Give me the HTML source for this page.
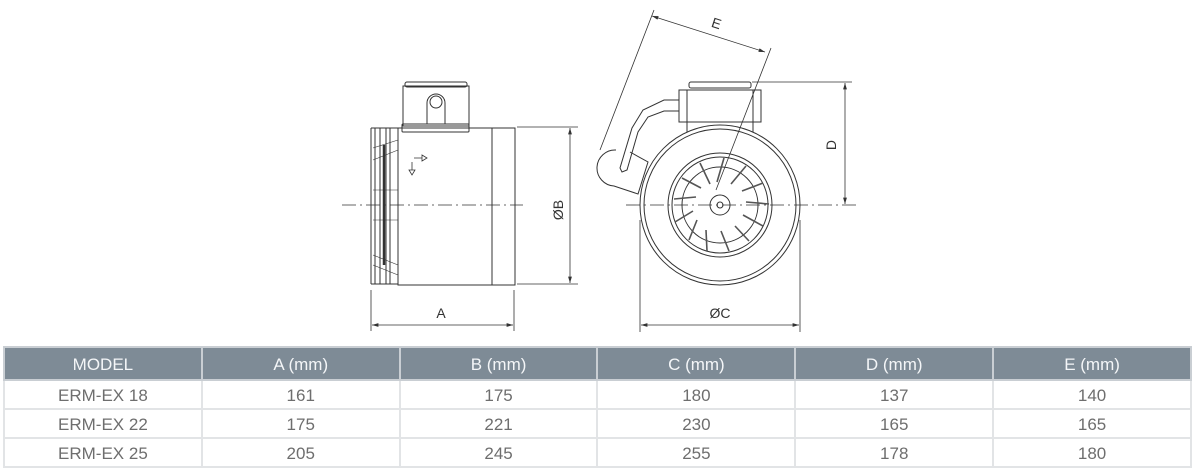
<!DOCTYPE html>
<html><head><meta charset="utf-8"><style>
html,body{margin:0;padding:0;background:#fff;width:1196px;height:470px;overflow:hidden;font-family:"Liberation Sans",sans-serif}
svg{position:absolute;left:0;top:0}
table{position:absolute;left:3px;top:346px;width:1189px;border-collapse:collapse;table-layout:fixed}
td,th{text-align:center;font-weight:normal;font-size:17px;border:2px solid #e2e4e6;padding:0;color:#6e6e6e;line-height:20px}
th{background:#7e8b96;color:#f4f6f8;height:29px;border-color:#c9ced3;padding-top:2px}
td{height:25px;padding-top:2px}
</style></head><body>
<svg width="1196" height="340" viewBox="0 0 1196 340" fill="none" stroke="#333" stroke-width="1">
<defs><marker id="ar" viewBox="0 0 10 10" refX="10" refY="5" markerWidth="8" markerHeight="8" orient="auto-start-reverse"><path d="M0,2 L10,5 L0,8" fill="#333" stroke="none"/></marker></defs>
<rect x="405" y="82" width="62" height="5" rx="2"/>
<rect x="403" y="86" width="66" height="40"/>
<path d="M427 124 V103 A9 9 0 0 1 445 103 V124"/>
<circle cx="436" cy="102" r="6"/>
<rect x="402" y="124" width="67" height="8" rx="1"/>
<rect x="398" y="128" width="94" height="157"/>
<rect x="492" y="128" width="23" height="157"/>
<path d="M371 128 H398 M371 284 H398 M371 128 V284 M375 128 V284 M380 128 V284 M386 128 V284 M390 128 V284"/>
<path d="M384 145 V265" stroke-width="2.5"/>
<path d="M373 148 L398 140 M373 160 L398 150 M373 255 L398 265 M373 265 L398 275 M373 190 H398 M373 220 H398" stroke-width="0.6"/>
<path d="M414 158 H422 M422 155 L427 158 L422 161 Z M412 162 V170 M409 170 L412 175 L415 170 Z" stroke-width="0.8"/>
<path d="M342 205 H523" stroke-dasharray="14 4 2 4" stroke-width="0.8"/>
<path d="M517 127 H578 M517 284 H578" stroke-width="0.8"/>
<line x1="570" y1="128" x2="570" y2="283" marker-start="url(#ar)" marker-end="url(#ar)" stroke-width="0.8"/>
<path d="M371 290 V331 M514 290 V331" stroke-width="0.8"/>
<line x1="372" y1="325" x2="513" y2="325" marker-start="url(#ar)" marker-end="url(#ar)" stroke-width="0.8"/>
<rect x="689" y="82" width="62" height="6" rx="2"/>
<rect x="679" y="90" width="82" height="32"/>
<path d="M687 90 V122 M753 90 V122"/>
<path d="M687 122 V132 M753 122 V132"/>
<path d="M679 100 H664 L643 110 L632 128 L620 168 L622 172 L627 170 L638 132 L648 117 L664 111 H679"/>
<path d="M616 150 A14 14 0 0 0 614 186 L638 194 L648 162 L630 152"/>
<circle cx="720" cy="205" r="80" fill="#fff"/>
<circle cx="720" cy="205" r="76"/>
<circle cx="720" cy="205" r="52"/>
<circle cx="720" cy="205" r="48"/>
<circle cx="720" cy="205" r="38"/>
<circle cx="720" cy="205" r="10"/>
<circle cx="720" cy="205" r="3"/>
<g stroke-width="1.6" stroke="#555">
<line x1="724" y1="158" x2="717" y2="182"/>
<line x1="746" y1="166" x2="731" y2="184"/>
<line x1="763" y1="183" x2="742" y2="191"/>
<line x1="769" y1="204" x2="746" y2="202"/>
<line x1="763" y1="226" x2="743" y2="215"/>
<line x1="749" y1="241" x2="735" y2="226"/>
<line x1="729" y1="251" x2="721" y2="231"/>
<line x1="707" y1="251" x2="706" y2="230"/>
<line x1="689" y1="240" x2="697" y2="220"/>
<line x1="675" y1="222" x2="693" y2="211"/>
<line x1="674" y1="199" x2="696" y2="197"/>
<line x1="682" y1="178" x2="701" y2="188"/>
<line x1="700" y1="163" x2="710" y2="184"/>
</g>
<path d="M626 205 H858" stroke-dasharray="14 4 2 4" stroke-width="0.8"/>
<path d="M752 82 H852" stroke-width="0.8"/>
<line x1="845" y1="83" x2="845" y2="204" marker-start="url(#ar)" marker-end="url(#ar)" stroke-width="0.8"/>
<path d="M640 220 V332 M800 220 V332" stroke-width="0.8"/>
<line x1="641" y1="325" x2="799" y2="325" marker-start="url(#ar)" marker-end="url(#ar)" stroke-width="0.8"/>
<path d="M600 150 L654 10 M716 190 L771 48" stroke-width="0.8"/>
<line x1="652" y1="16" x2="765" y2="52" marker-start="url(#ar)" marker-end="url(#ar)" stroke-width="0.8"/>
<g fill="#333" stroke="none" font-family="Liberation Sans, sans-serif" font-size="14">
<text x="441" y="318" text-anchor="middle">A</text>
<text x="720" y="318" text-anchor="middle">ØC</text>
<text transform="translate(563,210) rotate(-90)" text-anchor="middle">ØB</text>
<text transform="translate(836,145) rotate(-90)" text-anchor="middle">D</text>
<text transform="translate(715,28) rotate(18)" text-anchor="middle">E</text>
</g>
</svg>
<table>
<tr><th>MODEL</th><th>A (mm)</th><th>B (mm)</th><th>C (mm)</th><th>D (mm)</th><th>E (mm)</th></tr>
<tr><td>ERM-EX 18</td><td>161</td><td>175</td><td>180</td><td>137</td><td>140</td></tr>
<tr><td>ERM-EX 22</td><td>175</td><td>221</td><td>230</td><td>165</td><td>165</td></tr>
<tr><td>ERM-EX 25</td><td>205</td><td>245</td><td>255</td><td>178</td><td>180</td></tr>
</table>
</body></html>
